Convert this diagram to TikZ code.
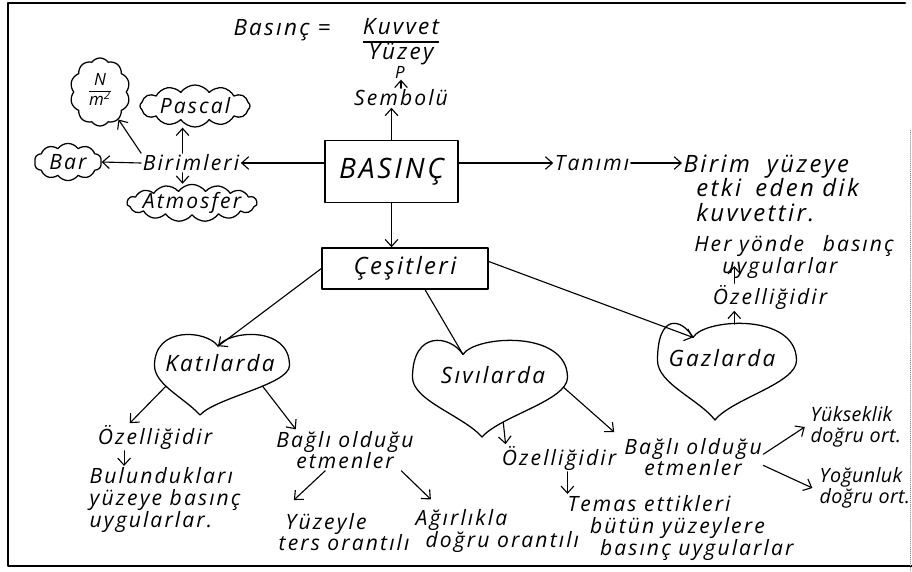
\documentclass[tikz,border=0pt]{standalone}
\usepackage{fontspec}
\setmainfont{Open Sans}[LetterSpace=10]
\usetikzlibrary{arrows.meta,shapes.symbols,calc}

\begin{document}
\begin{tikzpicture}[x=0.025cm, y=-0.025cm, line join=round, line cap=round,
	font=\itshape\fontsize{15}{15.5}\selectfont,
	yazi/.style={inner sep=1pt, align=left},
	dar/.style={font=\itshape\fontsize{14}{15}\selectfont\addfontfeature{LetterSpace=2}},
	kutu/.style={draw, line width=0.9pt, inner sep=0pt},
	bulut/.style={cloud, draw, cloud puffs=10, cloud puff arc=110, cloud ignores aspect, inner sep=0pt, line width=0.9pt},
	ok/.style={-{Straight Barb[length=5pt,width=9pt]}, line width=0.8pt},
	cizgi/.style={line width=0.8pt},
	pics/kalp/.style n args={4}{code={
		\draw[line width=0.9pt] (#3,-0.36*#2)
			.. controls (#3+0.08*#1,-0.56*#2) and (0.5*#1,-0.62*#2) .. (0.5*#1,-0.12*#2)
			.. controls (0.5*#1,0.12*#2) and (#4+0.12*#1,0.28*#2) .. (#4,0.5*#2)
			.. controls (#4-0.12*#1,0.28*#2) and (-0.5*#1,0.12*#2) .. (-0.5*#1,-0.12*#2)
			.. controls (-0.5*#1,-0.62*#2) and (#3-0.08*#1,-0.56*#2) .. (#3,-0.36*#2) -- cycle;
		\coordinate (-ust) at (#3,-0.36*#2);
		\coordinate (-tepe) at ({0.648*(#3)+0.2106*#1},{-0.5*#2});
		\coordinate (-sol) at ({-0.358*#1+0.352*(#4)},{0.14*#2});
		\coordinate (-sag) at ({0.358*#1+0.352*(#4)},{0.14*#2});
		\coordinate (-yan) at ({0.476*#1+0.06*(#4)},{-0.02*#2});
		\coordinate (-alt) at ({0.129*#1+0.844*(#4)},{0.344*#2});
	}}]
	\useasboundingbox (0,0) rectangle (912,571);
	
	% [Cerceve - Layer 1]
	\draw[line width=2pt] (905,3) -- (8,3) -- (8,566) -- (912,566);
	\draw[densely dotted, gray, line width=0.4pt] (910,130) -- (910,571);
	
	% [Formul ve sembol - Layer 2]
	\node[yazi, font=\itshape\fontsize{16}{18}\selectfont] (bas) at (282,30) {Basınç =};
	\node[yazi, font=\itshape\fontsize{16}{17}\selectfont] (kesir) at (401,42)
		{\setlength{\arrayrulewidth}{1pt}\begin{tabular}{@{}c@{}}Kuvvet\\\hline Yüzey\end{tabular}};
	\node[yazi, font=\itshape\fontsize{12}{13}\selectfont] (P) at (400,72) {P};
	\node[yazi] (sem) at (401,98) {Sembolü};
	
	% [Ana kutu - Layer 2]
	\node[kutu, minimum width=3.33cm, minimum height=1.55cm, font=\itshape\fontsize{20}{22}\selectfont] (basinc) at (391.5,171.5) {BASINÇ};
	\node[kutu, minimum width=4.15cm, minimum height=1.03cm, font=\itshape\fontsize{17}{19}\selectfont] (ces) at (405,268.5) {Çeşitleri};
	
	% [Birimler - Layer 3]
	\node[yazi] (bir) at (191,163) {Birimleri};
	\node[bulut, cloud puffs=12, minimum width=2.75cm, minimum height=1.05cm] (pas) at (195,106) {};
	\node[yazi] (pasy) at (pas) {Pascal};
	\node[bulut, minimum width=1.5cm, minimum height=1.7cm] (nm) at (100,92) {};
	\node[yazi, font=\itshape\fontsize{12}{13}\selectfont] (nmy) at (nm)
		{\begin{tabular}{@{}c@{}}N\\\hline m\textsuperscript{2}\end{tabular}};
	\node[bulut, minimum width=1.68cm, minimum height=0.93cm] (bar) at (68,162) {};
	\node[yazi] (bary) at (bar) {Bar};
	\node[bulut, cloud puffs=15, minimum width=3.25cm, minimum height=0.93cm] (atm) at (192,203) {};
	\node[yazi] (atmy) at (atm) {Atmosfer};
	
	% [Tanim - Layer 3]
	\node[yazi] (tan) at (592,163) {Tanımı};
	\node[yazi, anchor=west, font=\itshape\fontsize{17}{17.5}\selectfont] (tnm) at (682,188)
		{Birim\hspace{6pt} yüzeye\\\hspace*{9pt}etki\hspace{4pt} eden dik\\\hspace*{9pt}kuvvettir.};
	
	% [Kalpler - Layer 4]
	\pic (kat) at (222,375) {kalp={135}{80}{-4}{-22}};
	\node[yazi, font=\itshape\fontsize{16}{17}\selectfont] (katy) at (220,363) {Katılarda};
	\pic (siv) at (490,389) {kalp={155}{96}{-27}{-8}};
	\node[yazi, font=\itshape\fontsize{16}{17}\selectfont] (sivy) at (493,375) {Sıvılarda};
	\pic (gaz) at (727,372) {kalp={139}{96}{-34}{-12}};
	\node[yazi, font=\itshape\fontsize{16}{17}\selectfont] (gazy) at (722,358) {Gazlarda};
	
	% [Alt metinler - Layer 5]
	\node[yazi] (kozl) at (155,437) {Özelliğidir};
	\node[yazi, align=center] (kbag) at (345,450) {Bağlı olduğu\\etmenler};
	\node[yazi, anchor=west] (kbul) at (88,500) {Bulundukları\\yüzeye basınç\\uygularlar.};
	\node[yazi, anchor=west] (kyuz) at (277,532) {\hspace*{5pt}Yüzeyle\\ters orantılı};
	\node[yazi, anchor=west] (kagi) at (414,531) {Ağırlıkla\\\hspace*{7pt}doğru orantılı};
	\node[yazi] (sozl) at (559,458) {Özelliğidir};
	\node[yazi, align=center] (sbag) at (693,457) {Bağlı olduğu\\etmenler};
	\node[yazi, anchor=west] (stem) at (566,528) {Temas ettikleri\\\hspace*{16pt}bütün yüzeylere\\\hspace*{23pt}basınç uygularlar};
	\node[yazi, dar, anchor=west] (syuk) at (809,427) {Yükseklik\\doğru ort.};
	\node[yazi, dar, anchor=west] (syog) at (818,488) {Yoğunluk\\doğru ort.};
	\node[yazi] (gozl) at (770,297) {Özelliğidir};
	\node[yazi, align=center] (ghyb) at (794,257) {Her yönde\hspace{8pt} basınç\\\hspace*{-20pt}uygularlar};
	
	% [Oklar - Layer 6]
	\draw[ok] (basinc.north) -- (basinc.north |- sem.south);
	\draw[ok] (sem.north) -- (sem.north |- P.south);
	\draw[ok] (basinc.west |- bir.east) -- (bir.east);
	\draw[ok] ([xshift=-6pt]bir.north) -- ([xshift=-6pt]bir.north |- pas.south);
	\draw[ok] ([xshift=-6pt]bir.south) -- ([xshift=-6pt]bir.south |- atm.north);
	\draw[ok] (bir.west) -- (bar.east);
	\draw[ok] (bir.north west) -- (nm);
	\draw[ok] (basinc.east |- tan.west) -- (tan.west);
	\draw[ok] (tan.east) -- (tan.east -| tnm.west);
	\draw[ok] (basinc.south) -- (basinc.south |- ces.north);
	\draw[ok] (ces.west) -- (kat-ust);
	\draw[cizgi] ($(ces.south west)!0.62!(ces.south east)$) -- (siv-ust);
	\draw[ok] ([yshift=5pt]ces.east) -- (gaz-ust);
	\draw[ok] (kat-sol) -- ([xshift=-18pt]kozl.north);
	\draw[ok] (kat-sag) -- ([xshift=-35pt]kbag.north);
	\draw[ok] ([xshift=-22pt]kozl.south) -- ([xshift=-22pt]kozl.south |- kbul.north);
	\draw[ok] ([xshift=-14pt]kbag.south) -- ([xshift=12pt,yshift=8pt]kyuz.north west);
	\draw[ok] ([xshift=40pt]kbag.south) -- ([xshift=12pt,yshift=6pt]kagi.north west);
	\draw[ok] (siv-alt) -- ([xshift=-38pt]sozl.north);
	\draw[ok] (siv-yan) -- ([xshift=-6pt,yshift=3pt]sbag.north west);
	\draw[ok] ([xshift=6pt]sozl.south) -- ([xshift=6pt]sozl.south |- stem.north);
	\draw[ok] ([yshift=2pt]sbag.east) -- ([xshift=-3pt]syuk.west);
	\draw[ok] ([yshift=-6pt]sbag.east) -- ([xshift=-4pt]syog.west);
	\draw[ok] (gaz-tepe) -- (gaz-tepe |- gozl.south);
	\draw[ok] (gaz-tepe |- gozl.north) -- ([yshift=10pt]gaz-tepe |- ghyb.south);
\end{tikzpicture}
\end{document}
